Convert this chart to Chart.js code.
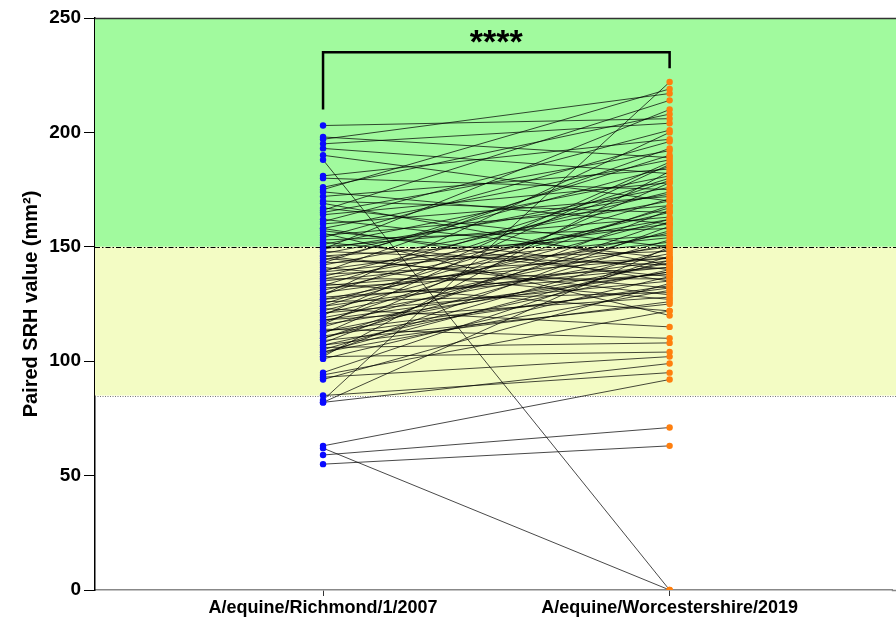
<!DOCTYPE html>
<html>
<head>
<meta charset="utf-8">
<script src="https://cdn.jsdelivr.net/npm/chart.js@4.4.0/dist/chart.umd.min.js"></script>
<style>
html,body{margin:0;padding:0;background:#fff;}
#wrap{width:896px;height:619px;}
</style>
</head>
<body>
<div id="wrap"><canvas id="c" width="896" height="619"></canvas></div>
<script>
// Categories (x tick labels)
const categories = ['A/equine/Richmond/1/2007', 'A/equine/Worcestershire/2019'];
// Y axis ticks
const yTicks = [0, 50, 100, 150, 200, 250];
// Paired values (same index = same pair)
const richmond = [203,197,195,193,190,188,181,180,175,174,172,170,167,165,164,162,160,158,157,155,154,153,152,151,150,149,148,147,146,145,144,143,142,141,140,139,138,137,136,135,134,133,132,131,130,129,128,127,126,125,124,123,122,121,120,119,118,117,116,115,114,113,112,111,110,109,108,107,106,105,104,103,102,101,95,94,93,92,85,83,82,82,63,62,59,55,158,149,146,143,139,136,133,129,127,124,121,118,116,113,110,107,104,102,166,176,198,169,161,156];
const worcestershire = [206,217,204,182,170,0,197,175,219,160,184,165,150,192,178,145,172,188,140,168,196,158,137,181,163,210,142,176,155,132,185,148,170,127,160,193,145,174,136,152,122,180,141,165,150,200,138,156,130,171,144,115,162,135,187,147,128,168,139,157,110,143,178,133,153,125,166,140,108,149,131,159,104,137,146,122,102,134,95,222,150,99,92,0,71,63,135,173,129,190,154,162,145,179,141,167,151,139,186,132,161,126,144,183,214,208,189,142,201,120];
// Reference bands / thresholds
const bandGreen = [150, 250];
const bandYellow = [85, 150];
const sigLabel = '****';
const bracketLevels = {top: 235, left: 210, right: 228};

const lineData = [];
const blueData = [];
const orangeData = [];
for (let i = 0; i < richmond.length; i++) {
  lineData.push({x: 0, y: richmond[i]});
  lineData.push({x: 1, y: worcestershire[i]});
  lineData.push({x: null, y: null});
  blueData.push({x: 0, y: richmond[i]});
  orangeData.push({x: 1, y: worcestershire[i]});
}

const FONT = "'Liberation Sans', Arial, sans-serif";

const bgPlugin = {
  id: 'bg',
  beforeDatasetsDraw(chart) {
    const {ctx, chartArea: a, scales: {y}} = chart;
    const R = chart.width;
    ctx.save();
    ctx.fillStyle = 'rgb(161,250,158)';
    ctx.fillRect(a.left, y.getPixelForValue(bandGreen[1]), R - a.left, y.getPixelForValue(bandGreen[0]) - y.getPixelForValue(bandGreen[1]));
    ctx.fillStyle = 'rgb(243,252,196)';
    ctx.fillRect(a.left, y.getPixelForValue(bandYellow[1]), R - a.left, y.getPixelForValue(bandYellow[0]) - y.getPixelForValue(bandYellow[1]));
    // dash-dot at 150
    let py = Math.round(y.getPixelForValue(150)) + 0.5;
    ctx.strokeStyle = '#000';
    ctx.lineWidth = 1;
    ctx.setLineDash([5, 2, 1.5, 2]);
    ctx.beginPath(); ctx.moveTo(a.left, py); ctx.lineTo(R, py); ctx.stroke();
    // dotted at 85
    py = Math.round(y.getPixelForValue(85)) + 0.5;
    ctx.strokeStyle = '#777';
    ctx.setLineDash([1, 1.5]);
    ctx.beginPath(); ctx.moveTo(a.left, py); ctx.lineTo(R, py); ctx.stroke();
    ctx.restore();
  },
  afterDraw(chart) {
    const {ctx, chartArea: a, scales: {x, y}} = chart;
    const R = chart.width;
    ctx.save();
    // top border and bottom axis extension
    ctx.strokeStyle = '#333';
    ctx.lineWidth = 1.5;
    ctx.beginPath(); ctx.moveTo(a.left, a.top + 0.5); ctx.lineTo(R, a.top + 0.5); ctx.stroke();
    ctx.strokeStyle = '#888';
    ctx.beginPath(); ctx.moveTo(a.right - 1, a.bottom + 0.5); ctx.lineTo(R, a.bottom + 0.5); ctx.stroke();
    // significance bracket
    const x0 = x.getPixelForValue(0), x1 = x.getPixelForValue(1);
    const yt = y.getPixelForValue(bracketLevels.top);
    ctx.strokeStyle = '#000';
    ctx.lineWidth = 2.5;
    ctx.beginPath();
    ctx.moveTo(x0, y.getPixelForValue(bracketLevels.left));
    ctx.lineTo(x0, yt);
    ctx.lineTo(x1, yt);
    ctx.lineTo(x1, y.getPixelForValue(bracketLevels.right));
    ctx.stroke();
    ctx.fillStyle = '#000';
    ctx.font = 'bold 34px ' + FONT;
    ctx.textAlign = 'center';
    ctx.textBaseline = 'middle';
    ctx.fillText(sigLabel, (x0 + x1) / 2, yt - 9);
    ctx.restore();
  }
};

new Chart(document.getElementById('c'), {
  type: 'scatter',
  data: {
    datasets: [
      {label: 'Richmond', data: blueData, pointRadius: 3.2, pointHoverRadius: 3.2, pointBackgroundColor: '#0a0aff', pointBorderWidth: 0, showLine: false, order: 0},
      {label: 'Worcestershire', data: orangeData, pointRadius: 3.2, pointHoverRadius: 3.2, pointBackgroundColor: '#ff7f0e', pointBorderWidth: 0, showLine: false, order: 0},
      {label: 'pairs', data: lineData, showLine: true, spanGaps: false, pointRadius: 0, borderColor: 'rgba(0,0,0,0.8)', borderWidth: 0.9, order: 1}
    ]
  },
  options: {
    responsive: false,
    animation: false,
    events: [],
    layout: {padding: {top: 18, right: 0, left: 0, bottom: 0}},
    plugins: {legend: {display: false}, tooltip: {enabled: false}},
    scales: {
      x: {
        type: 'linear',
        min: -0.658, max: 1.644,
        afterBuildTicks(scale) { scale.ticks = [{value: 0}, {value: 1}]; },
        afterFit(scale) { scale.height = 29; },
        ticks: {
          callback: (v) => categories[v] !== undefined ? categories[v] : '',
          font: {family: FONT, size: 18, weight: 'bold'},
          color: '#000',
          padding: 1,
          maxRotation: 0,
          autoSkip: false
        },
        grid: {drawOnChartArea: false, drawTicks: true, tickLength: 6, color: '#333', lineWidth: 1},
        border: {display: true, color: '#888', width: 1.5}
      },
      y: {
        min: 0, max: 250,
        afterBuildTicks(scale) { scale.ticks = yTicks.map(v => ({value: v})); },
        afterFit(scale) { scale.width = 95; },
        ticks: {
          font: {family: FONT, size: 19, weight: 'bold'},
          color: '#000',
          padding: 3
        },
        grid: {drawOnChartArea: false, drawTicks: true, tickLength: 11, color: '#000', lineWidth: 1},
        border: {display: true, color: '#000', width: 1.5},
        title: {
          display: true,
          text: 'Paired SRH value (mm²)',
          font: {family: FONT, size: 20, weight: 'bold'},
          color: '#000',
          padding: {top: 19, bottom: 0}
        }
      }
    }
  },
  plugins: [bgPlugin]
});
</script>
</body>
</html>
